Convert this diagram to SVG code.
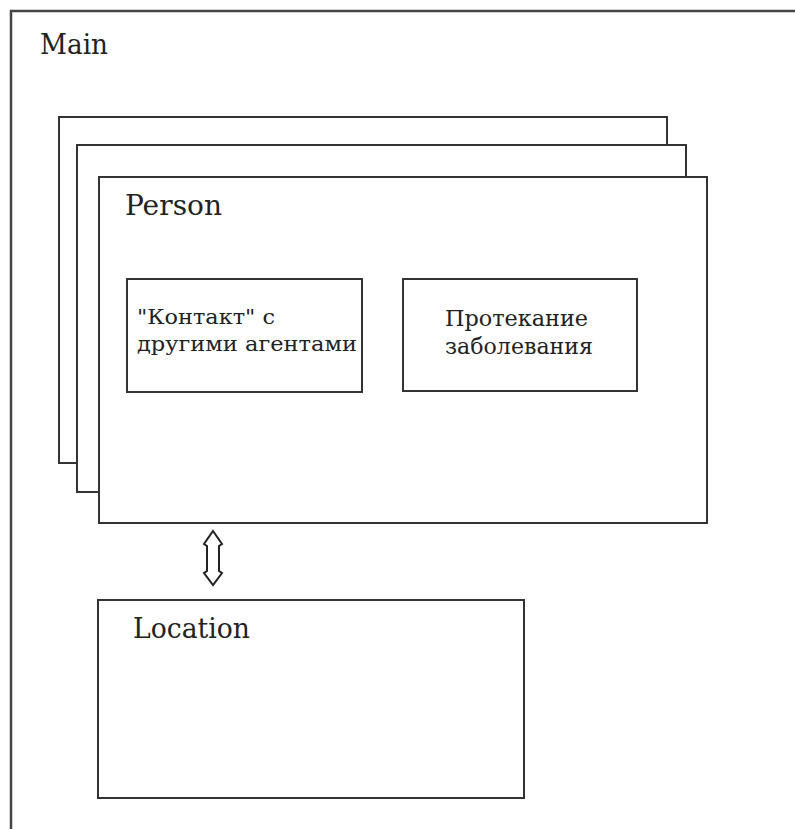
<svg xmlns="http://www.w3.org/2000/svg" width="795" height="829" viewBox="0 0 795 829">
<style>
.box{fill:#fff;stroke:#333;stroke-width:2}
.frame{fill:none;stroke:#444;stroke-width:2.5}
.t{font-family:"DejaVu Serif","Liberation Serif",serif;fill:#222}
.big{font-size:27px}
.small{font-size:21px}
.mid{font-size:22px}
</style>
<rect x="0" y="0" width="795" height="829" fill="#fff"/>
<g id="main">
<path class="frame" d="M11,829 V11 H795"/>
<text class="t big" x="40" y="54" textLength="68" lengthAdjust="spacingAndGlyphs">Main</text>
</g>
<g id="person-stack-3">
<rect class="box" x="59" y="117" width="608" height="346"/>
</g>
<g id="person-stack-2">
<rect class="box" x="77" y="145" width="609" height="347"/>
</g>
<g id="person">
<rect class="box" x="99" y="177" width="608" height="346"/>
<text class="t big" x="125" y="215" textLength="97" lengthAdjust="spacingAndGlyphs">Person</text>
</g>
<g id="contact">
<rect class="box" x="127" y="279" width="235" height="113"/>
<text class="t small" x="137" y="324" textLength="138" lengthAdjust="spacingAndGlyphs">"Контакт" с</text>
<text class="t small" x="137" y="351" textLength="220" lengthAdjust="spacingAndGlyphs">другими агентами</text>
</g>
<g id="disease">
<rect class="box" x="403" y="279" width="234" height="112"/>
<text class="t mid" x="445" y="326" textLength="143" lengthAdjust="spacingAndGlyphs">Протекание</text>
<text class="t mid" x="445" y="354" textLength="148" lengthAdjust="spacingAndGlyphs">заболевания</text>
</g>
<g id="location">
<rect class="box" x="98" y="600" width="426" height="198"/>
<text class="t big" x="133" y="638" textLength="117" lengthAdjust="spacingAndGlyphs">Location</text>
</g>
<g id="connectors">
<path fill="#fff" stroke="#222" stroke-width="2" stroke-linejoin="miter" d="M213,531 L222,544 L219,546 L219,571 L222,573 L213,585 L204,573 L207,571 L207,546 L204,544 Z"/>
</g>
</svg>
